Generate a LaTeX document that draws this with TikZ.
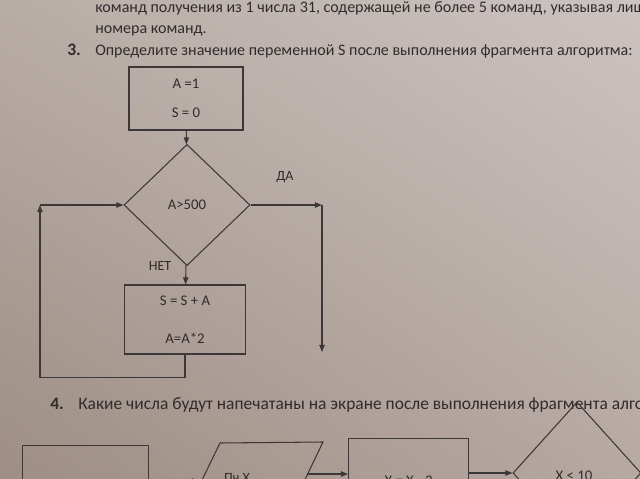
\documentclass[tikz,border=0pt]{standalone}
\usepackage{fontspec}
\setmainfont{Carlito}
\usetikzlibrary{shapes.geometric,arrows.meta,positioning,shadings}
\definecolor{chernila}{RGB}{48,44,46}
\definecolor{linii}{RGB}{60,55,56}
\definecolor{bumUL}{RGB}{184,173,166}
\definecolor{bumUR}{RGB}{204,195,193}
\definecolor{bumLL}{RGB}{158,142,132}
\definecolor{bumLR}{RGB}{182,169,162}
\tikzset{
  ink/.style={draw=linii, line width=0.75pt},
  blok/.style={ink, rectangle, inner sep=0pt, align=center, text=chernila,
    font=\fontsize{10.5}{12}\selectfont},
  romb/.style={ink, diamond, aspect=1, inner sep=0pt, text=chernila,
    font=\fontsize{10.5}{12}\selectfont},
  strelka/.style={ink, -{Triangle[length=5pt,width=3.8pt]}},
  tekst/.style={inner sep=0pt, text=chernila, font=\fontsize{11.4}{14}\selectfont},
  nomer/.style={tekst, font=\fontsize{12.5}{14}\bfseries},
  metka/.style={inner sep=0pt, text=chernila, font=\fontsize{10}{12}\selectfont},
}
\begin{document}
\begin{tikzpicture}[x=0.025cm, y=-0.025cm]
  \useasboundingbox (0,0) rectangle (640,479);
  \clip (0,0) rectangle (640,479);
  % bumaga
  \shade[upper left=bumUL, upper right=bumUR, lower left=bumLL, lower right=bumLR]
    (0,0) rectangle (640,479);
  % tekst zadaniy
  \node[tekst, anchor=base east] (str0) at (646,-2) {вторая удваивает его. Запишите порядок};
  \node[tekst, anchor=base west] (str1) at (95,13) {команд получения из 1 числа 31, содержащей не более 5 команд, указывая лишь};
  \node[tekst, anchor=base west] (str2) at (95,34) {номера команд.};
  \node[nomer, anchor=base west] (nom3) at (67,56) {3.};
  \node[tekst, anchor=base west] (str3) at (95,56) {Определите значение переменной S после выполнения фрагмента алгоритма:};
  % blok-skhema zadaniya 3
  \node[blok, minimum width=2.85cm, minimum height=1.575cm] (nach) at (186,98.5) {A =1\\[9pt]S = 0};
  \node[romb, minimum width=3.15cm, minimum height=3.03cm] (usl) at (187,205) {A>500};
  \node[blok, minimum width=3.025cm, minimum height=1.725cm] (telo) at (185,319.5) {S = S + A\\[15pt]A=A*2};
  \node[metka] (da) at (285,177) {ДА};
  \node[metka] (net) at (160,266) {НЕТ};
  \coordinate (vyhod) at (322,205);
  \coordinate (konec) at (322,352);
  \coordinate (povorot) at (40,205);
  \draw[strelka] (nach) -- (usl);
  \draw[strelka] (usl) -- (telo);
  \draw[strelka] (usl.east) -- (vyhod);
  \draw[strelka] (vyhod) -- (konec);
  \draw[strelka] (telo.south) -- ++(0,23) -| (povorot);
  \draw[strelka] (povorot) -- (usl.west);
  % zadanie 4
  \node[nomer, anchor=base west] (nom4) at (50,409) {4.};
  \node[tekst, font=\fontsize{12.4}{14}\selectfont, anchor=base west] (str4) at (78,409) {Какие числа будут напечатаны на экране после выполнения фрагмента алгоритма};
  \node[ink, rectangle, minimum width=3.15cm, minimum height=2cm, anchor=north west] (start4) at (22,445) {};
  \draw[ink] (185,515) -- (220,443) -- (323,442) -- (288,515) -- cycle;
  \node[metka] (vyvod) at (237,478) {Пч X};
  \node[blok, minimum width=3cm, minimum height=2.1cm, anchor=north west] (prisv) at (348,438) {X = X - 3};
  \node[romb, minimum width=3.2cm, minimum height=3.55cm] (usl4) at (577,473) {};
  \node[metka, font=\fontsize{10.5}{12}\selectfont] (uslt4) at (574,476) {X < 10};
  \coordinate (vhod) at (199,481);
  \coordinate (ot) at (307,474);
  \draw[strelka] (start4.east |- vhod) -- (vhod);
  \draw[strelka] (ot) -- (ot -| prisv.west);
  \draw[strelka] (prisv.east |- usl4.west) -- (usl4.west);
\end{tikzpicture}
\end{document}
